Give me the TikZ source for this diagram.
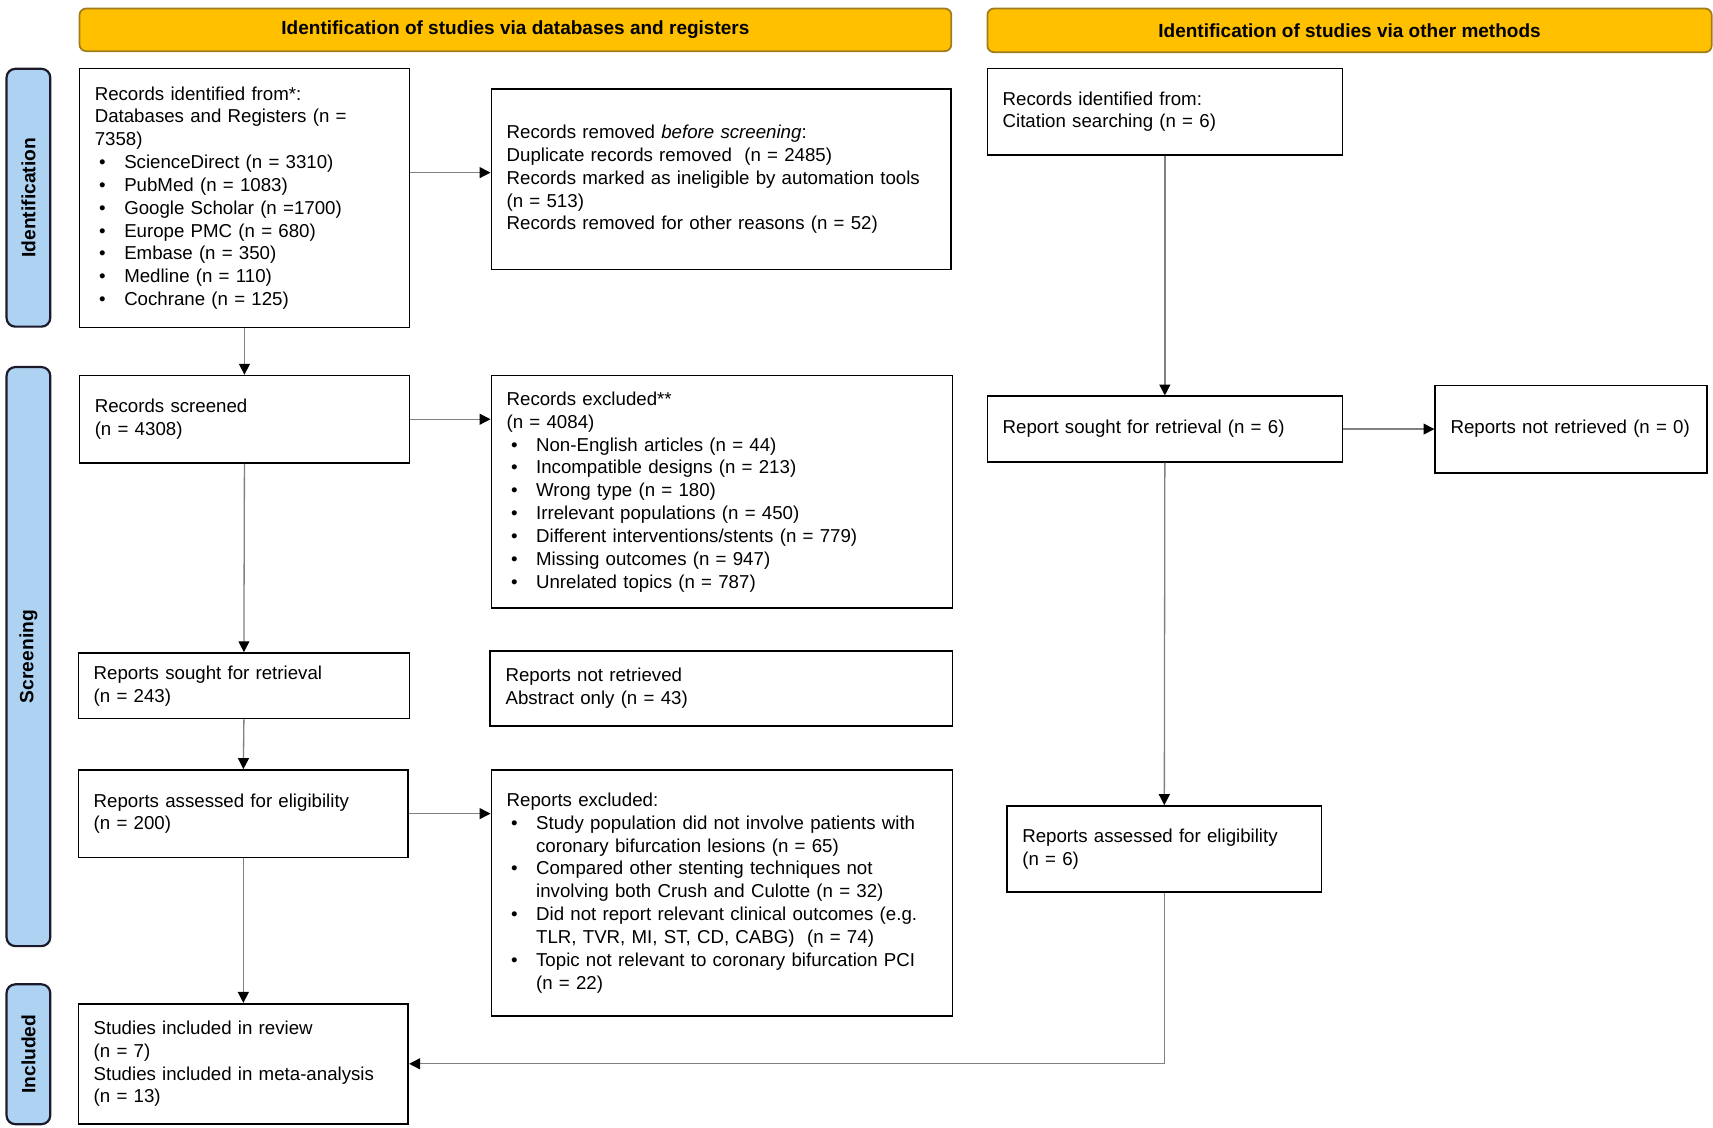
\documentclass[tikz,border=0pt]{standalone}
\usepackage{fontspec}
\setmainfont{Liberation Sans}
\usetikzlibrary{arrows.meta}
\definecolor{orangebar}{HTML}{FFC000}
\definecolor{orangeedge}{HTML}{A07C1C}
\definecolor{bluebar}{HTML}{AED2F2}
\definecolor{blueedge}{HTML}{1A1A2A}
\definecolor{conn}{HTML}{808080}
\newcommand\bul{\hspace*{2pt}\makebox[11.5pt][l]{\textbullet}}
\newcommand\ind{\hspace*{13.5pt}}
\begin{document}
\begin{tikzpicture}[x=0.5pt,y=-0.5pt,
  box/.style={draw=black, line width=0.75pt, anchor=north west, inner xsep=7pt, inner ysep=0pt, align=left, font=\fontsize{8.55}{10.45}\selectfont},
  hdr/.style={draw=orangeedge, fill=orangebar, line width=0.8pt, rounded corners=3pt, anchor=north west, inner sep=0pt, font=\bfseries\fontsize{8.7}{10.45}\selectfont},
  phase/.style={draw=blueedge, fill=bluebar, line width=1pt, rounded corners=4pt, anchor=north west, inner sep=0pt},
  ptext/.style={rotate=90, inner sep=0pt, font=\bfseries\fontsize{8.8}{10.45}\selectfont},
  arr/.style={draw=conn, line width=0.6pt, -{Triangle[length=5pt,width=5pt,black]}}]
\useasboundingbox (0,0) rectangle (1568,1032.5);

% phase bars
\node[phase, minimum width=20pt, minimum height=118pt] (P1) at (5,62) {};
\node[ptext] (P1t) at (P1.center) {Identification};
\node[phase, minimum width=20pt, minimum height=265pt] (P2) at (5,335) {};
\node[ptext] (P2t) at (P2.center) {Screening};
\node[phase, minimum width=20pt, minimum height=64pt] (P3) at (5,900) {};
\node[ptext] (P3t) at (P3.center) {Included};

% headers
\node[hdr, minimum width=399pt, minimum height=19.5pt] (H1) at (72,7) {Identification of studies via databases and registers};
\node[hdr, minimum width=331.5pt, minimum height=20pt] (H2) at (903,7) {Identification of studies via other methods};

% left column
\node[box, text width=137pt, minimum height=118.5pt] (B1) at (72,62) {Records identified from*:\\
Databases and Registers (n =\\
7358)\\
\bul ScienceDirect (n = 3310)\\
\bul PubMed (n = 1083)\\
\bul Google Scholar (n =1700)\\
\bul Europe PMC (n = 680)\\
\bul Embase (n = 350)\\
\bul Medline (n = 110)\\
\bul Cochrane (n = 125)};

\node[box, text width=196.5pt, minimum height=82.5pt] (B2) at (449,81) {Records removed \textit{before screening}:\\
Duplicate records removed \ (n = 2485)\\
Records marked as ineligible by automation tools\\
(n = 513)\\
Records removed for other reasons (n = 52)};

\node[box, text width=137pt, minimum height=40pt] (B3) at (72,343) {Records screened\\ (n = 4308)};

\node[box, text width=197pt, minimum height=106.5pt] (B4) at (449,343) {Records excluded**\\
(n = 4084)\\
\bul Non-English articles (n = 44)\\
\bul Incompatible designs (n = 213)\\
\bul Wrong type (n = 180)\\
\bul Irrelevant populations (n = 450)\\
\bul Different interventions/stents (n = 779)\\
\bul Missing outcomes (n = 947)\\
\bul Unrelated topics (n = 787)};

\node[box, text width=137.5pt, minimum height=30pt] (B5) at (71,597) {Reports sought for retrieval\\ (n = 243)};

\node[box, text width=197.5pt, minimum height=34.5pt] (B6) at (448,595) {Reports not retrieved\\ Abstract only (n = 43)};

\node[box, text width=137pt, minimum height=40pt] (B7) at (71,704) {Reports assessed for eligibility\\ (n = 200)};

\node[box, text width=197pt, minimum height=112.5pt] (B8) at (449,704) {Reports excluded:\\
\bul Study population did not involve patients with\\
\ind coronary bifurcation lesions (n = 65)\\
\bul Compared other stenting techniques not\\
\ind involving both Crush and Culotte (n = 32)\\
\bul Did not report relevant clinical outcomes (e.g.\\
\ind TLR, TVR, MI, ST, CD, CABG) \ (n = 74)\\
\bul Topic not relevant to coronary bifurcation PCI\\
\ind (n = 22)};

\node[box, text width=137pt, minimum height=55pt] (B9) at (71,918) {Studies included in review\\
(n = 7)\\
Studies included in meta-analysis\\
(n = 13)};

% right column
\node[box, text width=148.5pt, minimum height=39.5pt] (R1) at (903,62) {Records identified from:\\ Citation searching (n = 6)};
\node[box, text width=148.5pt, minimum height=30pt] (R2) at (903,362) {Report sought for retrieval (n = 6)};
\node[box, text width=110.5pt, minimum height=40pt] (R3) at (1313,352) {\mbox{Reports not retrieved (n = 0)}};
\node[box, text width=130pt, minimum height=39.5pt] (R4) at (921,737) {Reports assessed for eligibility\\ (n = 6)};

% connectors
\coordinate (a12) at (0,158);
\draw[arr] (B1.east |- a12) -- (B2.west |- a12);
\draw[arr] (B1.south) -- (B3.north);
\draw[arr] (B3.east) -- (B4.west |- B3.east);
\draw[arr] (B3.south) -- (B5.north);
\draw[arr] (B5.south) -- (B7.north);
\draw[arr] (B7.east) -- (B8.west |- B7.east);
\draw[arr] (B7.south) -- (B9.north);
\draw[arr] (R1.south) -- (R2.north);
\draw[arr] (R2.east) -- (R3.west |- R2.east);
\draw[arr] (R2.south) -- (R4.north);
\draw[arr] (R4.south) |- (B9.east);
\end{tikzpicture}
\end{document}
